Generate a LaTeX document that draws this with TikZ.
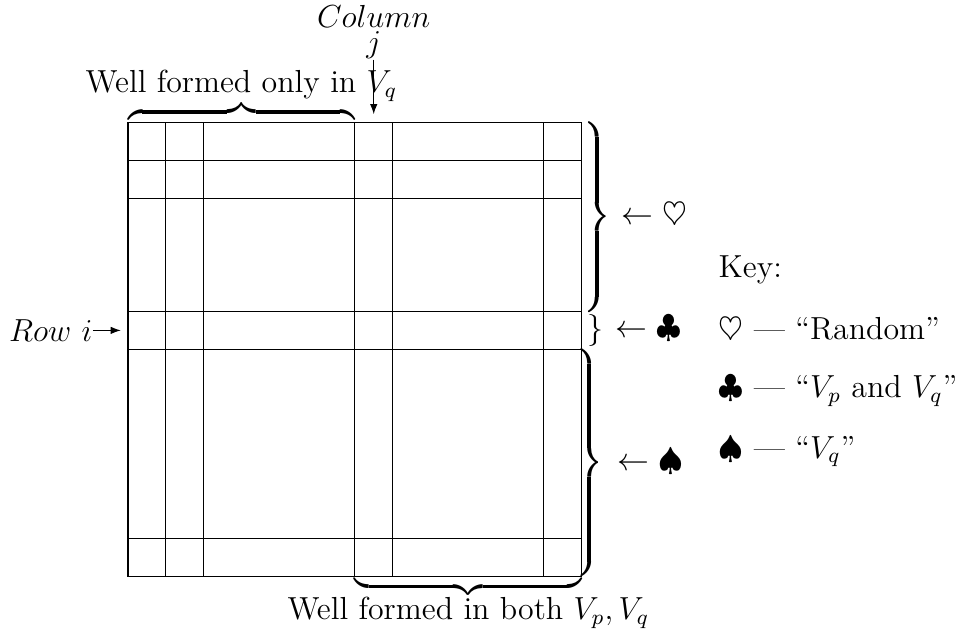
\documentclass[tikz,border=0pt,12pt]{standalone}
\usepackage{amssymb}
\usetikzlibrary{arrows.meta,positioning}
\tikzset{
  gridline/.style={draw, line width=0.4pt},
  lbl/.style={inner sep=0pt, anchor=base},
  lblw/.style={inner sep=0pt, anchor=base west},
  bracenode/.style={inner sep=0pt},
  pointer/.style={-{Latex[length=3.8pt,width=2.8pt]}, line width=0.4pt}
}
\newcommand{\bracewd}[1]{$\overbrace{\hspace{#1}}$}
\begin{document}
\begin{tikzpicture}[x=0.5cm,y=0.5cm]
\useasboundingbox (-3.386,-1.534) rectangle (22.22,15.24);
% grid
\draw[gridline] (0,0) rectangle (12,12);
\foreach \c in {1,2,6,7,11} \draw[gridline] (\c,0) -- (\c,12);
\foreach \r in {1,6,7,10,11} \draw[gridline] (0,\r) -- (12,\r);
% braces
\node[bracenode, anchor=south] (topbrace) at (3,12) {\bracewd{3cm}};
\node[bracenode, anchor=north] (botbrace) at (9,0) {$\underbrace{\hspace{3cm}}$};
\node[bracenode, rotate=-90] (heartbrace) at (12.4,9.5) {\bracewd{2.5cm}};
\node[bracenode] (clubbrace) at (12.37,6.5) {$\}$};
\node[bracenode, rotate=-90] (spadebrace) at (12.2,3) {\bracewd{3cm}};
% labels
\node[lbl] (wellq) at (3,12.8) {Well formed only in $V_q$};
\node[lbl] (wellpq) at (9,-1.14) {Well formed in both $V_p,V_q$};
\node[lbl] (collabel) at (6.5,14.52) {$Column$};
\node[lbl] (colj) at (6.5,13.84) {$j$};
\node[inner sep=0pt, anchor=east] (rowlabel) at (-0.93,6.5) {$Row\ i$};
\coordinate (coltip) at (6.5,12.22);
\coordinate (rowtip) at (-0.19,6.5);
\draw[pointer] (colj.south) -- (coltip);
\draw[pointer] (rowlabel.east) -- (rowtip);
\node[lblw] (heartmark) at (13.04,9.31) {$\leftarrow\heartsuit$};
\node[lblw] (clubmark) at (12.88,6.3) {$\leftarrow\clubsuit$};
\node[lblw] (spademark) at (12.93,2.8) {$\leftarrow\spadesuit$};
% key
\node[lblw] (keyhead) at (15.61,7.91) {Key:};
\node[lblw] (keyheart) at (15.61,6.27) {$\heartsuit$ --- ``Random''};
\node[lblw] (keyclub) at (15.61,4.73) {$\clubsuit$ --- ``$V_p$ and $V_q$''};
\node[lblw] (keyspade) at (15.61,3.12) {$\spadesuit$ --- ``$V_q$''};
\end{tikzpicture}
\end{document}
